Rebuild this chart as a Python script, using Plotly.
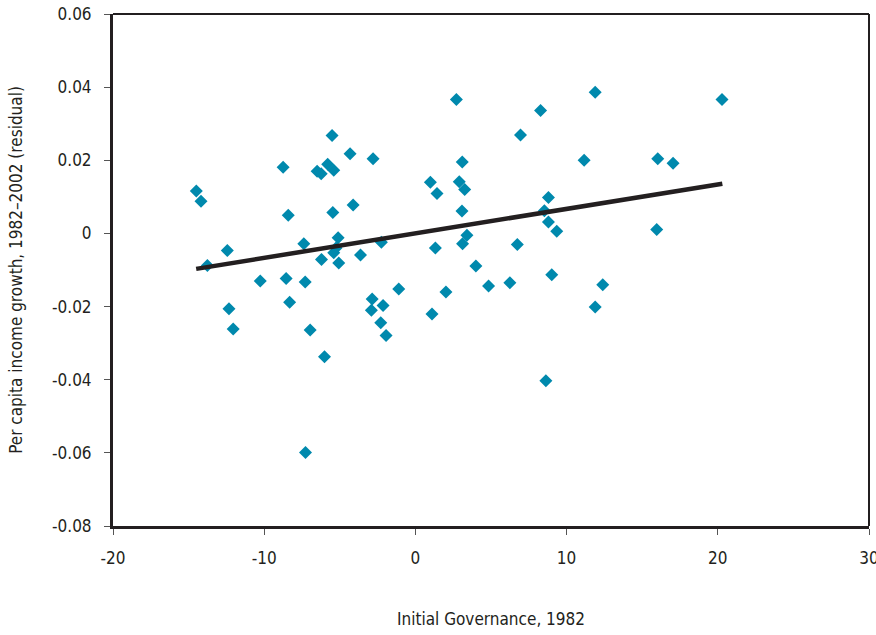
import plotly.graph_objects as go

# Data
governance = [
    -5.51, -4.32, -8.75, -2.80, -5.80, -5.40, -6.50, -6.23, -14.49, -14.18,
    -8.41, -5.46, -4.12, -7.38, -5.11, -5.25, -5.40, -12.44, -13.76, -6.21,
    -5.07, -3.63, -2.25, -10.26, -8.55, -7.29, -8.32, -12.33, -12.05, -6.96,
    -6.01, -7.27, -2.86, -2.91, -2.14, -2.29, -1.94, -1.10, 4.00, 2.02,
    1.10, 4.84, 6.25, 9.02, 12.39, 11.89, 8.63, 2.71, 11.89, 8.28,
    6.95, 3.10, 11.16, 16.03, 17.04, 0.99, 1.43, 2.90, 3.26, 3.08,
    8.80, 8.53, 8.80, 9.35, 15.96, 3.41, 3.12, 1.32, 6.74, 20.28,
]
growth = [
    0.0268, 0.0218, 0.0181, 0.0204, 0.0189, 0.0173, 0.0170, 0.0163, 0.0116, 0.0088,
    0.0050, 0.0057, 0.0078, -0.0028, -0.0012, -0.0040, -0.0053, -0.0047, -0.0088, -0.0071,
    -0.0081, -0.0059, -0.0024, -0.0130, -0.0123, -0.0133, -0.0188, -0.0206, -0.0261, -0.0264,
    -0.0337, -0.0599, -0.0179, -0.0210, -0.0197, -0.0244, -0.0279, -0.0152, -0.0089, -0.0160,
    -0.0220, -0.0144, -0.0135, -0.0113, -0.0140, -0.0201, -0.0403, 0.0366, 0.0386, 0.0336,
    0.0269, 0.0195, 0.0200, 0.0204, 0.0192, 0.0140, 0.0109, 0.0141, 0.0120, 0.0061,
    0.0098, 0.0062, 0.0031, 0.0006, 0.0011, -0.0005, -0.0028, -0.0040, -0.0030, 0.0366,
]
trend_x = [-14.5, 20.3]
trend_y = [-0.0097, 0.0136]

x_ticks = [-20, -10, 0, 10, 20, 30]
y_ticks = [0.06, 0.04, 0.02, 0, -0.02, -0.04, -0.06, -0.08]
y_tick_labels = ["0.06", "0.04", "0.02", "0", "-0.02", "-0.04", "-0.06", "-0.08"]

FONT = "Liberation Sans Narrow, DejaVu Sans Condensed, Arial Narrow, sans-serif"
INK = "#231f20"

fig = go.Figure()
fig.add_trace(go.Scatter(
    x=governance, y=growth, mode="markers",
    marker=dict(symbol="diamond", size=10, color="#0089ad", line=dict(width=0)),
    showlegend=False, hoverinfo="x+y",
))
fig.add_trace(go.Scatter(
    x=trend_x, y=trend_y, mode="lines",
    line=dict(color=INK, width=4.5),
    showlegend=False, hoverinfo="skip",
))

fig.update_layout(
    width=876, height=635,
    margin=dict(l=113, r=7, t=14, b=109, autoexpand=False),
    paper_bgcolor="white", plot_bgcolor="white",
    font=dict(family=FONT, size=17, color=INK),
)
fig.update_xaxes(
    range=[-20, 30], tickvals=x_ticks, ticktext=[str(v) for v in x_ticks],
    showgrid=False, zeroline=False, automargin=False,
    showline=True, linecolor=INK, linewidth=3,
    ticks="outside", ticklen=6, tickwidth=1, tickcolor="#555",
    ticklabelstandoff=9, ticklabeloverflow="allow",
    title=dict(text="Initial Governance, 1982", standoff=46,
               font=dict(family=FONT, size=17, color=INK)),
)
fig.update_yaxes(
    range=[-0.08, 0.06], tickvals=y_ticks, ticktext=y_tick_labels,
    showgrid=False, zeroline=False, automargin=False,
    showline=True, linecolor=INK, linewidth=3,
    ticks="outside", ticklen=6, tickwidth=1, tickcolor="#555",
    ticklabelstandoff=9, ticklabeloverflow="allow",
    title=dict(text="Per capita income growth, 1982–2002 (residual)", standoff=26,
               font=dict(family=FONT, size=17, color=INK)),
)
# thinner top/right frame
fig.add_shape(type="line", xref="paper", yref="paper", x0=0, x1=1, y0=1, y1=1,
              line=dict(color=INK, width=2))
fig.add_shape(type="line", xref="paper", yref="paper", x0=1, x1=1, y0=0, y1=1,
              line=dict(color=INK, width=2))

fig.write_html(
    "out.html",
    config={"displayModeBar": False},
    post_script="document.body.style.margin='0';document.body.style.overflow='hidden';",
)
